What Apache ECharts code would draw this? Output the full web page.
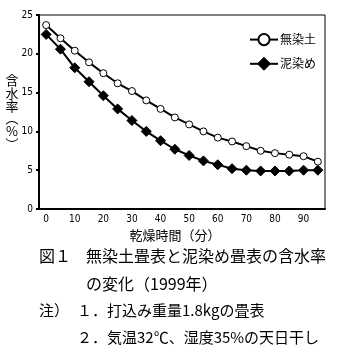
<!DOCTYPE html>
<html><head><meta charset="utf-8">
<script src="https://cdn.jsdelivr.net/npm/echarts@6/dist/echarts.min.js"></script>
<style>html,body{margin:0;padding:0;background:#fff}#c{width:350px;height:361px}</style>
</head><body><div id="c"></div>
<script>
var categories = [0,5,10,15,20,25,30,35,40,45,50,55,60,65,70,75,80,85,90,95];
var seriesNames = ['無染土','泥染め'];
var mumatsuchi = [23.7,22.0,20.4,18.9,17.5,16.2,15.2,14.0,12.9,11.8,10.9,10.0,9.2,8.7,8.1,7.5,7.2,7.0,6.8,6.1];
var dorozome = [22.5,20.6,18.2,16.4,14.6,12.9,11.4,10.0,8.8,7.7,6.9,6.2,5.7,5.2,5.0,4.9,4.9,4.9,5.0,5.0];
var yTicks = [0,5,10,15,20,25];
var xTitle = '乾燥時間（分）';
var yTitle = '含\n水\n率\n︵\n%\n︶';
var caption = ['図１','無染土畳表と泥染め畳表の含水率','の変化（1999年）','注）','１．打込み重量1.8kgの畳表','２．気温32℃、湿度35%の天日干し'];

var cjk = '"Noto Sans CJK JP", sans-serif';
var num = '"Liberation Sans Narrow", "DejaVu Sans Condensed", "Liberation Sans", sans-serif';
var chart = echarts.init(document.getElementById('c'));
chart.setOption({
  animation: false,
  backgroundColor: '#fff',
  grid: {left: 39, right: 25, top: 15, bottom: 152, show: true, borderColor: '#000', borderWidth: 1, backgroundColor: 'transparent'},
  legend: {
    orient: 'vertical', left: 244, top: 28, itemWidth: 28, itemHeight: 14, itemGap: 11,
    textStyle: {fontFamily: cjk, fontSize: 12, color: '#000', padding: [0,0,0,-3]},
    data: seriesNames
  },
  xAxis: {
    type: 'category', data: categories, boundaryGap: true,
    axisLine: {lineStyle: {color: '#000', width: 2}},
    axisTick: {interval: 1, length: 4, lineStyle: {color: '#000', width: 2}},
    axisLabel: {interval: 1, margin: 5, fontFamily: num, fontSize: 10, color: '#000'},
    splitLine: {show: false}
  },
  yAxis: {
    type: 'value', min: yTicks[0], max: yTicks[yTicks.length-1], interval: 5,
    axisLine: {show: true, lineStyle: {color: '#000', width: 2}},
    axisTick: {show: true, length: 3, lineStyle: {color: '#000', width: 2}},
    axisLabel: {margin: 6, fontFamily: num, fontSize: 10, color: '#000'},
    splitLine: {show: false}
  },
  series: [
    {name: seriesNames[0], type: 'line', data: mumatsuchi, symbol: 'circle', symbolSize: 7, showAllSymbol: true,
     itemStyle: {color: '#fff', borderColor: '#000', borderWidth: 1},
     lineStyle: {color: '#000', width: 2}, z: 3},
    {name: seriesNames[1], type: 'line', data: dorozome, symbol: 'diamond', symbolSize: 10, showAllSymbol: true,
     itemStyle: {color: '#000', borderColor: '#000', borderWidth: 1},
     lineStyle: {color: '#000', width: 2}, z: 2}
  ],
  graphic: [
    {type: 'text', left: 'center', top: 229, style: {text: xTitle, font: '13px ' + cjk, fill: '#000'}},
    {type: 'text', x: 12, y: 74, style: {text: yTitle, font: '13px ' + cjk, fill: '#000', align: 'center', lineHeight: 12.7}},
    {type: 'text', x: 39, y: 248, style: {text: caption[0], font: '16px ' + cjk, fill: '#000'}},
    {type: 'text', x: 86, y: 248, style: {text: caption[1], font: '16px ' + cjk, fill: '#000'}},
    {type: 'text', x: 86, y: 276, style: {text: caption[2], font: '16px ' + cjk, fill: '#000'}},
    {type: 'text', x: 39, y: 303, style: {text: caption[3], font: '15px ' + cjk, fill: '#000'}},
    {type: 'text', x: 77, y: 303, style: {text: caption[4], font: '15px ' + cjk, fill: '#000'}},
    {type: 'text', x: 77, y: 330, style: {text: caption[5], font: '15px ' + cjk, fill: '#000'}}
  ]
});
</script></body></html>
